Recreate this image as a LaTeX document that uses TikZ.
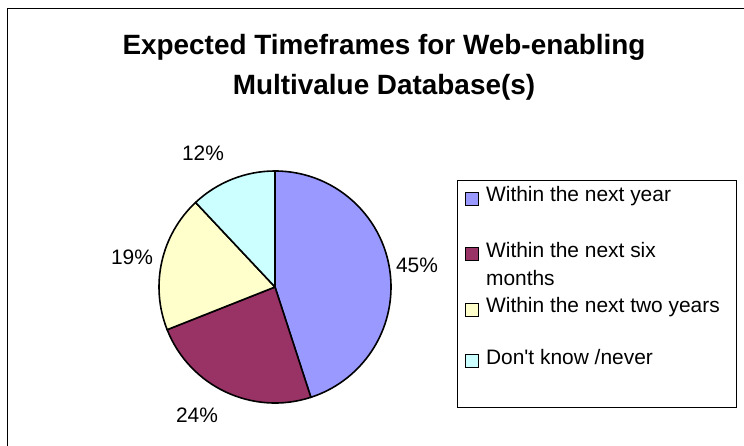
\documentclass[tikz,border=0pt]{standalone}
\usepackage{fontspec}
\setmainfont{Liberation Sans}
\usetikzlibrary{positioning,calc}
\definecolor{nextyear}{HTML}{9999FF}
\definecolor{sixmonths}{HTML}{993366}
\definecolor{twoyears}{HTML}{FFFFCC}
\definecolor{dontknow}{HTML}{CCFFFF}
\tikzset{
	pct/.style={inner sep=0pt, font=\fontsize{21}{25}\selectfont},
	legtext/.style={inner sep=0pt, anchor=base west, align=left, font=\fontsize{21}{29}\selectfont},
	legkey/.style={draw, line width=0.8bp, minimum size=13bp, inner sep=0pt},
	slice/.style={draw, line width=1.6bp, line join=round},
	heading/.style={inner sep=0pt, anchor=base, font=\fontsize{28}{40}\bfseries\selectfont}
}
\begin{document}
\begin{tikzpicture}[x=1bp, y=1bp]
	\useasboundingbox (0, 0) rectangle (744, 446);
	\fill[white] (0, 0) rectangle (744, 446);
	\draw[line width=1.5bp] (7.5, -10) -- (7.5, 437.7) -- (760, 437.7);
	% title
	\node[heading] (titletop)	at	(384, 391)	{Expected Timeframes for Web-enabling};
	\node[heading] (titlebot)	at	(384, 351)	{Multivalue Database(s)};
	% pie
	\coordinate (piec) at (275, 159);
	\draw[slice, fill=nextyear]	(piec) -- ++(90:116) arc[start angle=90, end angle=-72, radius=116] -- cycle;
	\draw[slice, fill=sixmonths]	(piec) -- ++(-72:116) arc[start angle=-72, end angle=-158.4, radius=116] -- cycle;
	\draw[slice, fill=twoyears]	(piec) -- ++(-158.4:116) arc[start angle=-158.4, end angle=-226.8, radius=116] -- cycle;
	\draw[slice, fill=dontknow]	(piec) -- ++(-226.8:116) arc[start angle=-226.8, end angle=-270, radius=116] -- cycle;
	\node[pct] (pctyear)	at	(417, 181)	{45\%};
	\node[pct] (pctsix)		at	(197, 31)	{24\%};
	\node[pct] (pcttwo)		at	(132, 189)	{19\%};
	\node[pct] (pctnever)	at	(203, 293)	{12\%};
	% legend
	\draw[line width=1bp] (457, 38) rectangle (736, 265);
	\node[legkey, fill=nextyear]	(keyyear)	at	(472, 247.5)	{};
	\node[legkey, fill=sixmonths]	(keysix)	at	(472, 192.5)	{};
	\node[legkey, fill=twoyears]	(keytwo)	at	(472, 136.5)	{};
	\node[legkey, fill=dontknow]	(keynever)	at	(472, 85)	{};
	\node[legtext] (legyear)	at	($(keyyear.east)+(7, -3.5)$)	{Within the next year};
	\node[legtext] (legsix)		at	($(keysix.east)+(7, -32.5)$)	{Within the next six\\months};
	\node[legtext] (legtwo)		at	($(keytwo.east)+(7, -3.5)$)	{Within the next two years};
	\node[legtext] (legnever)	at	($(keynever.east)+(7, -3.5)$)	{Don\textquotesingle t know /never};
\end{tikzpicture}
\end{document}
